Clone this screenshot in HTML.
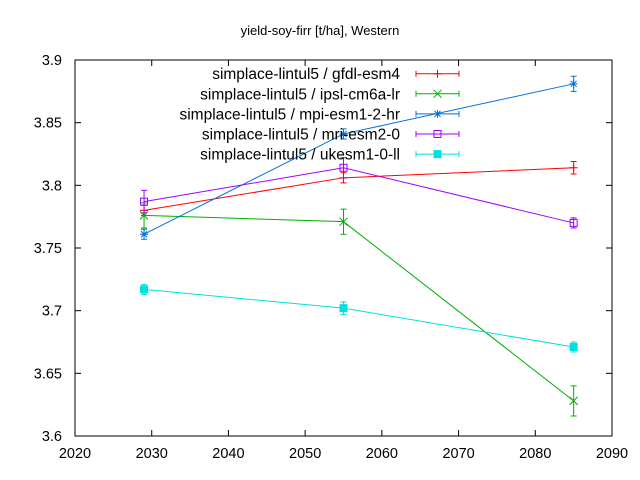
<!DOCTYPE html>
<html><head><meta charset="utf-8"><style>
body{margin:0;background:#fff}
svg{display:block;font-family:"Liberation Sans",sans-serif}
</style></head><body>
<svg id="c" width="640" height="480">
<text x="320" y="35" text-anchor="middle" font-size="13">yield-soy-firr [t/ha], Western</text>
<g id="axes"></g><g id="series"></g><g id="legend"></g>
</svg>
<script>
const years=[2029,2055,2085];
const names=["simplace-lintul5 / gfdl-esm4","simplace-lintul5 / ipsl-cm6a-lr","simplace-lintul5 / mpi-esm1-2-hr","simplace-lintul5 / mri-esm2-0","simplace-lintul5 / ukesm1-0-ll"];
const gfdl=[3.780,3.806,3.814];
const gfdlErr=[0.004,0.004,0.005];
const ipsl=[3.776,3.771,3.628];
const ipslErr=[0.010,0.010,0.012];
const mpi=[3.761,3.841,3.881];
const mpiErr=[0.004,0.004,0.006];
const mri=[3.787,3.814,3.770];
const mriErr=[0.009,0.008,0.004];
const uk=[3.717,3.702,3.671];
const ukErr=[0.004,0.005,0.004];
const xTicks=[2020,2030,2040,2050,2060,2070,2080,2090];
const yTicks=[3.6,3.65,3.7,3.75,3.8,3.85,3.9];
const L=75,R=612,T=60,B=436;
const X=v=>L+(v-2020)/70*(R-L);
const Y=v=>B-(v-3.6)/0.3*(B-T);
const NS="http://www.w3.org/2000/svg";
function mk(tag,attrs,parent,txt){const e=document.createElementNS(NS,tag);for(const k in attrs)e.setAttribute(k,attrs[k]);if(txt!==undefined)e.textContent=txt;parent.appendChild(e);return e;}
const ax=document.getElementById('axes');
const frame=mk('rect',{x:L,y:T,width:R-L,height:B-T,fill:'none',stroke:'#000','stroke-width':1},ax);


xTicks.forEach(t=>{
 const x=X(t);
 mk('line',{x1:x,y1:B,x2:x,y2:B-6,stroke:'#000'},ax);
 mk('line',{x1:x,y1:T,x2:x,y2:T+6,stroke:'#000'},ax);
 const tx=mk('text',{x:x,y:B+22,'text-anchor':'middle','font-size':14.5},ax,String(t));
 
 
});
yTicks.forEach(t=>{
 const y=Y(t);
 mk('line',{x1:L,y1:y,x2:L+6,y2:y,stroke:'#000'},ax);
 mk('line',{x1:R,y1:y,x2:R-6,y2:y,stroke:'#000'},ax);
 const tx=mk('text',{x:L-13,y:y+5,'text-anchor':'end','font-size':14.5},ax,String(t));
 
 
});
const series=[[gfdl,gfdlErr,'#ff0000','plus'],[ipsl,ipslErr,'#00b000','x'],[mpi,mpiErr,'#0070e0','star'],[mri,mriErr,'#a000ff','box'],[uk,ukErr,'#00e0e0','fbox']];
function marker(g,x,y,type,c){
 if(type==='plus'){mk('path',{d:`M${x-4} ${y}h8M${x} ${y-4}v8`,stroke:c,fill:'none'},g);}
 else if(type==='x'){mk('path',{d:`M${x-4} ${y-4}l8 8M${x-4} ${y+4}l8 -8`,stroke:c,fill:'none'},g);}
 else if(type==='star'){mk('path',{d:`M${x-4} ${y}h8M${x} ${y-4}v8M${x-3} ${y-3}l6 6M${x-3} ${y+3}l6 -6`,stroke:c,fill:'none'},g);}
 else if(type==='box'){mk('rect',{x:x-3.5,y:y-3.5,width:7,height:7,stroke:c,fill:'none'},g);}
 else {mk('rect',{x:x-3.5,y:y-3.5,width:7,height:7,stroke:c,fill:c},g);}
}
const sg=document.getElementById('series');
const lg=document.getElementById('legend');
series.forEach((s,i)=>{
 const [vals,errs,c,type]=s;
 const g=mk('g',{},sg);
 
 
 mk('polyline',{points:years.map((yr,j)=>X(yr)+','+Y(vals[j])).join(' '),fill:'none',stroke:c},g);
 years.forEach((yr,j)=>{
  const x=X(yr),y1=Y(vals[j]-errs[j]),y2=Y(vals[j]+errs[j]);
  mk('path',{d:`M${x} ${y1}V${y2}M${x-3} ${y1}h6M${x-3} ${y2}h6`,stroke:c,fill:'none'},g);
  marker(g,x,Y(vals[j]),type,c);
 });
 const ly=73.7+i*20.1;
 const le=mk('g',{},lg);
 
 
 mk('text',{x:400,y:ly+5.5,'text-anchor':'end','font-size':15.5},le,names[i]);
 mk('path',{d:`M416 ${ly}H459M416 ${ly-3}v6M459 ${ly-3}v6`,stroke:c,fill:'none'},le);
 marker(le,437.5,ly,type,c);
});
</script>
</body></html>
